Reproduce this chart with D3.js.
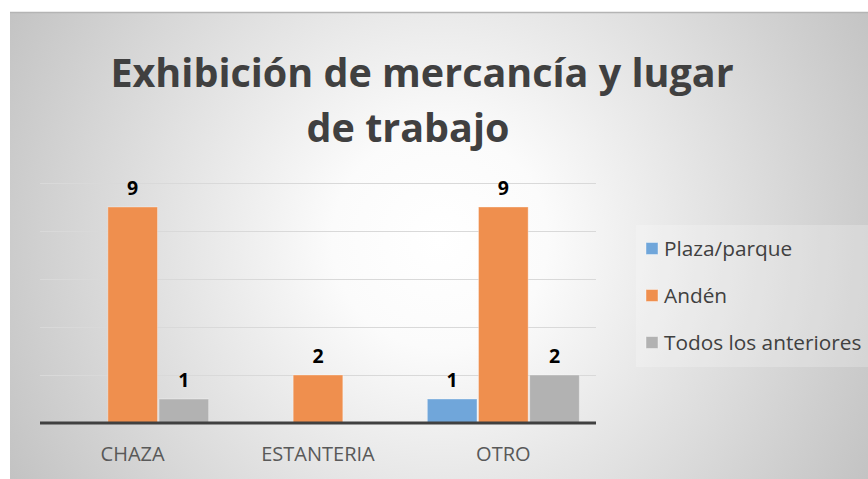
<!DOCTYPE html>
<html>
<head>
<meta charset="utf-8">
<script src="https://cdn.jsdelivr.net/npm/d3@7"></script>
<style>
  body { margin: 0; background: #fff; }
  svg { display: block; }
</style>
</head>
<body>
<div id="chart"></div>
<script>
const categories = ["CHAZA", "ESTANTERIA", "OTRO"];
const seriesNames = ["Plaza/parque", "Andén", "Todos los anteriores"];
const plazaValues = [null, null, 1];
const andenValues = [9, 2, 9];
const todosValues = [1, null, 2];
const yTicks = [0, 2, 4, 6, 8, 10];
const colors = ["#70a6da", "#ef8f4e", "#b2b2b2"];

const width = 868, height = 479;
const plot = { left: 40, right: 596, top: 183, bottom: 423 };

const svg = d3.select("#chart").append("svg")
    .attr("width", width)
    .attr("height", height);

// background
const defs = svg.append("defs");
const grad = defs.append("radialGradient")
    .attr("id", "bg")
    .attr("gradientUnits", "userSpaceOnUse")
    .attr("cx", 440).attr("cy", 240).attr("r", 490);
grad.append("stop").attr("offset", "0%").attr("stop-color", "#ffffff");
grad.append("stop").attr("offset", "22%").attr("stop-color", "#fbfbfb");
grad.append("stop").attr("offset", "100%").attr("stop-color", "#c3c3c3");

svg.append("rect")
    .attr("x", 10).attr("y", 12)
    .attr("width", width - 10).attr("height", height - 12)
    .attr("fill", "url(#bg)");
svg.append("line")
    .attr("x1", 10).attr("x2", width)
    .attr("y1", 12.5).attr("y2", 12.5)
    .attr("stroke", "#b4b4b4").attr("stroke-width", 1.5);

// title
const title = svg.append("text")
    .attr("font-family", "'Open Sans', sans-serif")
    .attr("font-weight", "bold")
    .attr("font-size", 39.5)
    .attr("fill", "#404040")
    .attr("text-anchor", "middle");
title.append("tspan").attr("x", 422).attr("y", 87).text("Exhibición de mercancía y lugar");
title.append("tspan").attr("x", 408).attr("y", 142).text("de trabajo");

// scales
const x0 = d3.scaleBand()
    .domain(categories)
    .range([plot.left, plot.right])
    .paddingInner(0.18)
    .paddingOuter(0.09);

const x1 = d3.scaleBand()
    .domain(seriesNames)
    .range([0, x0.bandwidth()])
    .paddingInner(0.03);

const y = d3.scaleLinear()
    .domain([0, 10])
    .range([plot.bottom, plot.top]);

// gridlines
svg.append("g")
    .attr("transform", `translate(${plot.left},0)`)
    .call(d3.axisLeft(y).tickValues(yTicks.slice(1)).tickSize(-(plot.right - plot.left)).tickFormat(""))
    .call(g => g.select(".domain").remove())
    .call(g => g.selectAll(".tick line").attr("stroke", "#d9d9d9").attr("stroke-width", 1));

// bars
const seriesValues = [plazaValues, andenValues, todosValues];
const rows = [];
seriesValues.forEach((vals, s) => {
    vals.forEach((v, c) => {
        if (v != null) rows.push({ cat: categories[c], series: seriesNames[s], s, value: v });
    });
});

svg.append("g")
    .selectAll("rect")
    .data(rows)
    .enter()
    .append("rect")
    .attr("x", d => x0(d.cat) + x1(d.series))
    .attr("y", d => y(d.value))
    .attr("width", x1.bandwidth())
    .attr("height", d => y(0) - y(d.value))
    .attr("fill", d => colors[d.s])
    .attr("stroke", "rgba(255,255,255,0.35)")
    .attr("stroke-width", 1);

// data labels
svg.append("g")
    .selectAll("text")
    .data(rows)
    .enter()
    .append("text")
    .attr("x", d => x0(d.cat) + x1(d.series) + x1.bandwidth() / 2)
    .attr("y", d => y(d.value) - 12.5)
    .attr("text-anchor", "middle")
    .attr("font-family", "'Open Sans', sans-serif")
    .attr("font-weight", "bold")
    .attr("font-size", 19.5)
    .attr("fill", "#000")
    .text(d => d.value);

// x axis
svg.append("g")
    .attr("transform", `translate(0,${plot.bottom})`)
    .call(d3.axisBottom(x0).tickSize(0).tickPadding(24))
    .call(g => g.select(".domain").attr("stroke", "#404040").attr("stroke-width", 3)
        .attr("d", `M${plot.left},0H${plot.right}`))
    .call(g => g.selectAll(".tick text")
        .attr("font-family", "'Open Sans', sans-serif")
        .attr("font-size", 20)
        .attr("fill", "#595959"));

// legend
const legend = svg.append("g");
legend.append("rect")
    .attr("x", 636).attr("y", 225)
    .attr("width", width - 636).attr("height", 142)
    .attr("fill", "rgba(255,255,255,0.22)");

const legendY = d3.scalePoint()
    .domain(seriesNames)
    .range([249, 343]);

const item = legend.selectAll("g.item")
    .data(seriesNames)
    .enter()
    .append("g")
    .attr("class", "item")
    .attr("transform", d => `translate(646,${legendY(d)})`);

item.append("rect")
    .attr("x", 0).attr("y", -6.5)
    .attr("width", 12).attr("height", 12)
    .attr("fill", (d, i) => colors[i])
    .attr("stroke", "rgba(255,255,255,0.4)")
    .attr("stroke-width", 1);

item.append("text")
    .attr("x", 18)
    .attr("y", 6.5)
    .attr("font-family", "'Open Sans', sans-serif")
    .attr("font-size", 20.8)
    .attr("fill", "#404040")
    .text(d => d);
</script>
</body>
</html>
